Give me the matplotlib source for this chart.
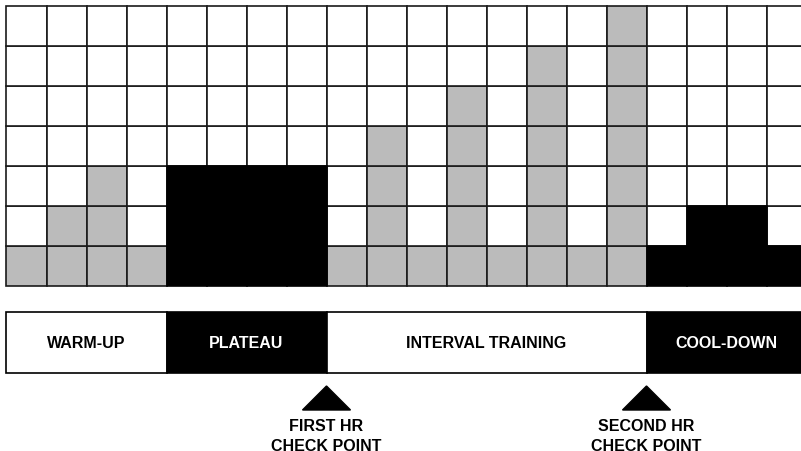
import matplotlib
matplotlib.use("Agg")
import matplotlib.pyplot as plt
from matplotlib.patches import Rectangle, Polygon

# Data
levels = [1, 2, 3, 1, 3, 3, 3, 3, 1, 4, 1, 5, 1, 6, 1, 7, 1, 2, 2, 1]
kinds = ["g", "g", "g", "g", "b", "b", "b", "b", "g", "g", "g", "g", "g", "g", "g", "g", "b", "b", "b", "b"]
n_rows = 7
phases = ["WARM-UP", "PLATEAU", "INTERVAL TRAINING", "COOL-DOWN"]
phase_start = [0, 4, 8, 16]
phase_len = [4, 4, 8, 4]
phase_dark = [False, True, False, True]
checkpoints = [8, 16]
checkpoint_labels = ["FIRST HR\nCHECK POINT", "SECOND HR\nCHECK POINT"]

fig = plt.figure(figsize=(8.01, 4.52), dpi=100)
ax = fig.add_axes([0, 0, 1, 1])
ax.set_xlim(-6.5 / 40, (801 - 6.5) / 40)
ax.set_ylim((287 - 452) / 40, (287 - 0) / 40)
ax.axis("off")

gray = "#bbbbbb"
# light cells first
for c, (lv, k) in enumerate(zip(levels, kinds)):
    for r in range(n_rows):
        if r < lv and k == "b":
            continue
        fc = gray if r < lv else "white"
        ax.add_patch(Rectangle((c, r), 1, 1, facecolor=fc, edgecolor="#1a1a1a",
                               lw=1.2, zorder=1))
# solid black cells on top
for c, (lv, k) in enumerate(zip(levels, kinds)):
    if k != "b":
        continue
    for r in range(lv):
        ax.add_patch(Rectangle((c, r), 1, 1, facecolor="black", edgecolor="black",
                               lw=1.2, zorder=2))

# phase bar
bar_top = -0.65
bar_bot = -2.175
for name, s, L, dark in zip(phases, phase_start, phase_len, phase_dark):
    ax.add_patch(Rectangle((s, bar_bot), L, bar_top - bar_bot,
                           facecolor="black" if dark else "white",
                           edgecolor="black", lw=1.2))
    ax.text(s + L / 2, (bar_top + bar_bot) / 2, name,
            color="white" if dark else "black", ha="center", va="center",
            fontsize=11.5, fontweight="bold", family="Liberation Sans")

# checkpoints
for x, lab in zip(checkpoints, checkpoint_labels):
    ax.add_patch(Polygon([(x - 0.6, -3.1), (x + 0.6, -3.1), (x, -2.5)],
                         closed=True, facecolor="black", edgecolor="black"))
    ax.text(x, -3.73, lab, ha="center", va="center", fontsize=11.5,
            fontweight="bold", family="Liberation Sans", linespacing=1.4)

fig.savefig("out.png", dpi=100)
